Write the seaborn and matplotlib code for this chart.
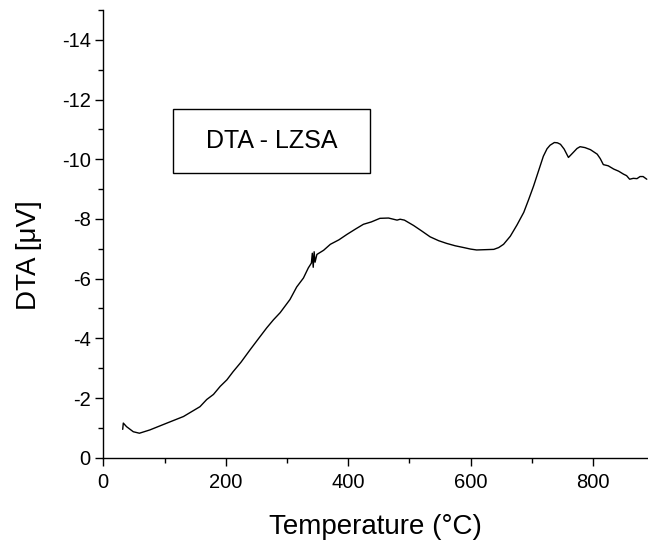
import matplotlib
matplotlib.use("Agg")
import matplotlib.pyplot as plt
import seaborn as sns
import pandas as pd
from matplotlib.patches import Rectangle

# Data
temperature = [31.7, 32.7, 38, 49, 59, 76, 104, 131, 158, 169, 180, 191, 202, 212, 225,
               240, 254, 267, 278, 289, 305, 316, 327, 335, 340, 341.5, 343, 344.5, 346, 349,
               360, 371, 385, 398, 412, 425, 438, 452, 466, 480, 485, 492, 507, 520,
               534, 548, 561, 575, 589, 600, 610, 624, 638, 646, 654, 665, 676, 687,
               695, 703, 711, 719, 725, 730, 737, 742, 747, 753, 760, 768, 774, 779,
               787, 796, 807, 812, 817, 825, 834, 842, 850, 855, 860, 866, 872, 877,
               882, 888]
dta = [-0.95, -1.16, -1.04, -0.87, -0.82, -0.93, -1.16, -1.38, -1.71, -1.95, -2.12, -2.39,
       -2.61, -2.88, -3.2, -3.62, -4.0, -4.35, -4.62, -4.86, -5.3, -5.72, -6.02, -6.36, -6.52,
       -6.85, -6.38, -6.9, -6.55, -6.81, -6.95, -7.15, -7.3, -7.48, -7.66, -7.82, -7.9,
       -8.02, -8.03, -7.96, -7.99, -7.96, -7.78, -7.6, -7.4, -7.27, -7.18, -7.1, -7.04,
       -6.99, -6.96, -6.97, -6.98, -7.04, -7.15, -7.42, -7.8, -8.22, -8.65, -9.1, -9.6,
       -10.1, -10.35, -10.47, -10.56, -10.55, -10.5, -10.34, -10.06, -10.23, -10.36,
       -10.42, -10.39, -10.32, -10.17, -10.02, -9.82, -9.78, -9.67, -9.6, -9.5, -9.45,
       -9.33, -9.36, -9.35, -9.42, -9.42, -9.33]

x_major_ticks = [0, 200, 400, 600, 800]
y_major_ticks = [0, -2, -4, -6, -8, -10, -12, -14]
box_text = "DTA - LZSA"

sns.set_style("ticks")
plt.rcParams["font.family"] = ["Liberation Sans", "DejaVu Sans"]
plt.rcParams["axes.unicode_minus"] = False

df = pd.DataFrame({"Temperature": temperature, "DTA": dta})

fig = plt.figure(figsize=(6.48, 5.41), dpi=100)
ax = fig.add_axes([103.3 / 648, (541 - 457.7) / 541, (648 - 103.3) / 648, (457.7 - 10) / 541])

sns.lineplot(data=df, x="Temperature", y="DTA", ax=ax, color="black", linewidth=1.0,
             sort=False, estimator=None)

ax.set_xlim(0, 890)
ax.set_ylim(0, -15)
ax.set_xticks(x_major_ticks)
ax.set_yticks(y_major_ticks)
ax.set_xticks(range(100, 900, 200), minor=True)
ax.set_yticks(range(-1, -16, -2), minor=True)
ax.set_xticklabels([str(t) for t in x_major_ticks])
ax.set_yticklabels([str(t) for t in y_major_ticks])

ax.tick_params(axis="both", which="major", direction="out", length=6, width=1.0,
               labelsize=14.5, colors="black", pad=3)
ax.tick_params(axis="x", which="major", pad=5)
ax.tick_params(axis="both", which="minor", direction="out", length=3.8, width=1.0,
               colors="black")

for side in ["top", "right"]:
    ax.spines[side].set_visible(False)
for side in ["left", "bottom"]:
    ax.spines[side].set_linewidth(1.0)
    ax.spines[side].set_color("black")

ax.set_xlabel("Temperature (°C)", fontsize=20, color="black")
ax.set_ylabel("DTA [μV]", fontsize=20, color="black")
ax.yaxis.set_label_coords(-0.113, 0.453)
ax.xaxis.set_label_coords(0.5, -0.126)

ax.text(0.309, 0.7065, box_text, transform=ax.transAxes, ha="center", va="center",
        fontsize=18, color="black")
ax.add_patch(Rectangle((0.1285, 0.635), 0.4896 - 0.1285, 0.778 - 0.635,
                       transform=ax.transAxes, fill=False, ec="black", lw=1.0))

ax.grid(False)
fig.savefig("out.png", dpi=100)
